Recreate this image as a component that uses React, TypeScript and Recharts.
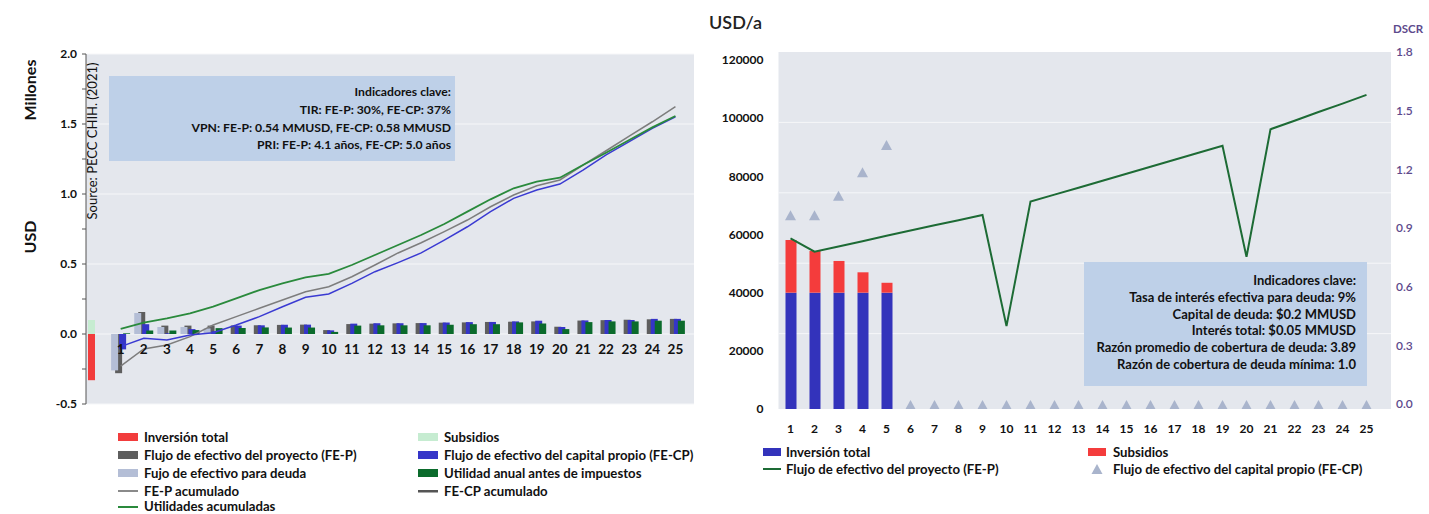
import React from 'react';
import { ComposedChart, Bar, Line, XAxis, YAxis, CartesianGrid, LabelList } from 'recharts';

const FONT = "Lato, 'Open Sans', sans-serif";

// ---------- Left chart data (millones USD) ----------
const years = ['0','1','2','3','4','5','6','7','8','9','10','11','12','13','14','15','16','17','18','19','20','21','22','23','24','25'];
const yearLabels = ['','1','2','3','4','5','6','7','8','9','10','11','12','13','14','15','16','17','18','19','20','21','22','23','24','25'];
const inversionTotal = [-0.33,0,0,0,0,0,0,0,0,0,0,0,0,0,0,0,0,0,0,0,0,0,0,0,0,0];
const subsidios = [0.1,0,0,0,0,0,0,0,0,0,0,0,0,0,0,0,0,0,0,0,0,0,0,0,0,0];
const flujoProyecto = [null,-0.28,0.157,0.06,0.06,0.06,0.061,0.063,0.065,0.067,0.028,0.071,0.074,0.076,0.078,0.081,0.083,0.086,0.088,0.09,0.052,0.096,0.099,0.102,0.105,0.108];
const flujoDeuda = [0,-0.26,0.15,0.05,0.05,0.04,0,0,0,0,0,0,0,0,0,0,0,0,0,0,0,0,0,0,0,0];
const flujoCapital = [null,-0.11,0.07,0.005,0.035,0.02,0.06,0.062,0.066,0.067,0.026,0.074,0.077,0.077,0.078,0.082,0.085,0.086,0.09,0.095,0.05,0.097,0.1,0.1,0.108,0.108];
const utilidadAnual = [null,0.005,0.025,0.025,0.028,0.042,0.043,0.047,0.046,0.046,0.015,0.06,0.062,0.062,0.062,0.066,0.07,0.07,0.083,0.075,0.035,0.085,0.09,0.09,0.095,0.095];
const fepAcumulado = [null,-0.229,-0.107,-0.079,-0.019,0.064,0.124,0.184,0.243,0.302,0.338,0.409,0.493,0.579,0.652,0.731,0.814,0.909,0.993,1.059,1.1,1.207,1.309,1.414,1.516,1.624];
const fecpAcumulado = [null,-0.09,-0.031,-0.043,-0.007,0.009,0.064,0.124,0.195,0.262,0.286,0.362,0.445,0.51,0.579,0.671,0.766,0.874,0.969,1.029,1.071,1.171,1.279,1.374,1.469,1.552];
const utilidadesAcumuladas = [null,0.036,0.081,0.112,0.148,0.195,0.255,0.314,0.362,0.405,0.429,0.493,0.564,0.636,0.707,0.786,0.874,0.962,1.041,1.088,1.116,1.207,1.295,1.386,1.476,1.557];
const zeroLine = [null,0,0,0,0,0,0,0,0,0,0,0,0,0,0,0,0,0,0,0,0,0,0,0,0,0];
const leftTicks = [-0.5,-0.25,0,0.25,0.5,0.75,1,1.25,1.5,1.75,2];
const leftGrid = [-0.5,0,0.5,1,1.5,2];

// ---------- Right chart data (USD/a, DSCR) ----------
const rYears = ['1','2','3','4','5','6','7','8','9','10','11','12','13','14','15','16','17','18','19','20','21','22','23','24','25'];
const rInversion = [40000,40000,40000,40000,40000,null,null,null,null,null,null,null,null,null,null,null,null,null,null,null,null,null,null,null,null];
const rSubsidios = [18100,14300,10900,7000,3400,null,null,null,null,null,null,null,null,null,null,null,null,null,null,null,null,null,null,null,null];
const rFlujoProyecto = [58700,54100,55900,57700,59600,61400,63200,64900,66700,28500,71300,73700,76100,78500,80900,83300,85700,88100,90500,52300,96200,99100,102100,105000,108000];
const rDscr = [0.97,0.97,1.07,1.19,1.33,0,0,0,0,0,0,0,0,0,0,0,0,0,0,0,0,0,0,0,0];
const usdTicks = [0,20000,40000,60000,80000,100000,120000];
const dscrTicks = [0,0.3,0.6,0.9,1.2,1.5,1.8];
const dscrGrid = [0.36,0.72,1.08,1.44];

const leftData = years.map((y, i) => ({
  year: y,
  lbl: yearLabels[i],
  inv: inversionTotal[i],
  sub: subsidios[i],
  fep: flujoProyecto[i],
  deuda: flujoDeuda[i],
  fecp: flujoCapital[i],
  util: utilidadAnual[i],
  fepAc: fepAcumulado[i],
  fecpAc: fecpAcumulado[i],
  utilAc: utilidadesAcumuladas[i],
  zero: zeroLine[i],
}));

const rightData = rYears.map((y, i) => ({
  year: y,
  inv: rInversion[i],
  sub: rSubsidios[i],
  fep: rFlujoProyecto[i],
  dscr: rDscr[i],
}));

const XLabel = (p: any) => {
  const x = p.x ?? p.viewBox?.x;
  const y = p.y ?? p.viewBox?.y;
  if (!p.value || x == null || y == null) return null;
  return (
    <text x={x} y={y + 20} textAnchor="middle" fontSize={13.5} fontWeight={700} fill="#111" fontFamily={FONT}>
      {p.value}
    </text>
  );
};

const Tri = (p: any) => {
  const { cx, cy } = p;
  if (cx == null || cy == null) return null;
  return <polygon key={`t${p.index}`} points={`${cx - 5.5},${cy + 6} ${cx + 5.5},${cy + 6} ${cx},${cy - 4}`} fill="#a9b4cc" />;
};

const tickStyle = { fontSize: 12, fontWeight: 700, fill: '#111', fontFamily: FONT };

function LeftChart() {
  return (
    <div style={{ position: 'absolute', left: 0, top: 0 }}>
      <ComposedChart width={700} height={420} data={leftData} margin={{ top: 54, right: 6, bottom: 16, left: 0 }}
        barGap={-3} stackOffset="sign">
        <CartesianGrid vertical={false} horizontalValues={leftGrid} fill="#e4e7ed" stroke="#f6f7f9" strokeWidth={1} />
        <XAxis dataKey="year" hide padding={{ left: 0, right: 7 }} />
        <YAxis width={86} domain={[-0.5, 2]} ticks={leftTicks} type="number" allowDataOverflow
          tickFormatter={(v: number) => (Math.abs(Math.round(v * 100)) % 50 === 0 ? v.toFixed(1) : '')}
          axisLine={{ stroke: '#555' }} tickLine={{ stroke: '#555' }} tickSize={4} tickMargin={5} tick={tickStyle} />
        <Bar dataKey="fep" fill="#5e5e5e" barSize={7} isAnimationActive={false} />
        <Bar dataKey="deuda" stackId="d" fill="#b4bed6" barSize={7} isAnimationActive={false} />
        <Bar dataKey="inv" stackId="d" fill="#f23c3c" barSize={7} isAnimationActive={false} />
        <Bar dataKey="sub" stackId="d" fill="#c6ecd1" barSize={7} isAnimationActive={false} />
        <Bar dataKey="fecp" fill="#3535c8" barSize={7} isAnimationActive={false} />
        <Bar dataKey="util" fill="#0b6b2c" barSize={7} isAnimationActive={false} />
        <Line dataKey="fepAc" stroke="#7d7d7d" strokeWidth={1.5} dot={false} activeDot={false} isAnimationActive={false} />
        <Line dataKey="fecpAc" stroke="#3a3ad2" strokeWidth={1.5} dot={false} activeDot={false} isAnimationActive={false} />
        <Line dataKey="utilAc" stroke="#2a8a3c" strokeWidth={1.8} dot={false} activeDot={false} isAnimationActive={false} />
        <Line dataKey="zero" stroke="none" dot={false} activeDot={false} isAnimationActive={false}>
          <LabelList dataKey="lbl" content={XLabel} />
        </Line>
      </ComposedChart>
    </div>
  );
}

function RightChart() {
  return (
    <div style={{ position: 'absolute', left: 700, top: 0 }}>
      <ComposedChart width={729} height={440} data={rightData} margin={{ top: 52, right: 0, bottom: 0, left: 0 }}>
        <CartesianGrid vertical={false} yAxisId="dscr" horizontalValues={dscrGrid} fill="#e4e7ed" stroke="#f6f7f9" strokeWidth={1} />
        <XAxis dataKey="year" height={31} padding={{ left: 0, right: 12.5 }} axisLine={false} tickLine={false}
          tickSize={0} tickMargin={15} tick={tickStyle} interval={0} />
        <YAxis yAxisId="usd" orientation="left" width={78.5} domain={[0, 122750]} ticks={usdTicks} type="number"
          allowDataOverflow axisLine={false} tickLine={false} tickSize={0} tickMargin={15} tick={tickStyle} />
        <YAxis yAxisId="dscr" orientation="right" width={38} domain={[-0.0256, 1.8]} ticks={dscrTicks} type="number"
          allowDataOverflow axisLine={false} tickLine={false} tickSize={0} tickMargin={5}
          tickFormatter={(v: number) => v.toFixed(1)}
          tick={{ fontSize: 12, fontWeight: 600, fill: '#5d4a8c', fontFamily: FONT, textAnchor: 'start' }} />
        <Bar yAxisId="usd" dataKey="inv" stackId="r" fill="#3333bb" barSize={11} isAnimationActive={false} />
        <Bar yAxisId="usd" dataKey="sub" stackId="r" fill="#f43c3c" barSize={11} isAnimationActive={false} />
        <Line yAxisId="usd" dataKey="fep" stroke="#1d6b35" strokeWidth={2} dot={false} activeDot={false} isAnimationActive={false} />
        <Line yAxisId="dscr" dataKey="dscr" stroke="none" dot={Tri} activeDot={false} isAnimationActive={false} />
      </ComposedChart>
    </div>
  );
}

const T = (props: any) => <text fontFamily={FONT} fill="#111" {...props} />;

function Overlay() {
  const lx1 = 118, lx2 = 418;
  const rx1 = 763, rx2 = 1088;
  const LF = 13.2;
  const RB = 13;
  return (
    <svg width={1429} height={514} style={{ position: 'absolute', left: 0, top: 0, pointerEvents: 'none' }}>
      {/* Left titles */}
      <T transform="translate(36,90) rotate(-90)" textAnchor="middle" fontSize={16} fontWeight={700}>Millones</T>
      <T transform="translate(97,141) rotate(-90)" textAnchor="middle" fontSize={13}>Source: PECC CHIH. (2021)</T>
      <T transform="translate(36,237) rotate(-90)" textAnchor="middle" fontSize={16} fontWeight={700}>USD</T>
      {/* Left box */}
      <rect x={109} y={76} width={346} height={85} fill="#bed0e8" />
      <T x={451} y={96} textAnchor="end" fontSize={12.2} fontWeight={700}>Indicadores clave:</T>
      <T x={451} y={114} textAnchor="end" fontSize={12.2} fontWeight={700}>TIR: FE-P: 30%, FE-CP: 37%</T>
      <T x={451} y={132} textAnchor="end" fontSize={12.2} fontWeight={700}>VPN: FE-P: 0.54 MMUSD, FE-CP: 0.58 MMUSD</T>
      <T x={451} y={149} textAnchor="end" fontSize={12.2} fontWeight={700}>PRI: FE-P: 4.1 años, FE-CP: 5.0 años</T>

      {/* Left legend */}
      <rect x={lx1} y={433} width={20} height={8} fill="#f23c3c" />
      <T x={144} y={441.5} fontSize={LF} fontWeight={700}>Inversión total</T>
      <rect x={lx2} y={433} width={20} height={8} fill="#c6ecd1" />
      <T x={444} y={441.5} fontSize={LF} fontWeight={700}>Subsidios</T>
      <rect x={lx1} y={451} width={20} height={8} fill="#5e5e5e" />
      <T x={144} y={459.5} fontSize={LF} fontWeight={700}>Flujo de efectivo del proyecto (FE-P)</T>
      <rect x={lx2} y={451} width={20} height={8} fill="#3535c8" />
      <T x={444} y={459.5} fontSize={LF} fontWeight={700}>Flujo de efectivo del capital propio (FE-CP)</T>
      <rect x={lx1} y={469} width={20} height={8} fill="#b4bed6" />
      <T x={144} y={477.5} fontSize={LF} fontWeight={700}>Fujo de efectivo para deuda</T>
      <rect x={lx2} y={469} width={20} height={8} fill="#0b6b2c" />
      <T x={444} y={477.5} fontSize={LF} fontWeight={700}>Utilidad anual antes de impuestos</T>
      <rect x={lx1} y={490} width={20} height={2} fill="#8a8a8a" />
      <T x={144} y={495.5} fontSize={LF} fontWeight={700}>FE-P acumulado</T>
      <rect x={lx2} y={490} width={20} height={2.5} fill="#555" />
      <T x={444} y={495.5} fontSize={LF} fontWeight={700}>FE-CP acumulado</T>
      <rect x={lx1} y={506} width={20} height={2} fill="#2a8a3c" />
      <T x={144} y={511} fontSize={LF} fontWeight={700}>Utilidades acumuladas</T>

      {/* Right titles */}
      <T x={709} y={29} fontSize={18} fontWeight={600} fill="#222">USD/a</T>
      <T x={1393} y={33} fontSize={11.5} fontWeight={700} fill="#5d4a8c">DSCR</T>

      {/* Right box */}
      <rect x={1084} y={262} width={283} height={124} fill="#bed0e8" />
      <T x={1356} y={285} textAnchor="end" fontSize={RB} fontWeight={700}>Indicadores clave:</T>
      <T x={1356} y={302} textAnchor="end" fontSize={RB} fontWeight={700}>Tasa de interés efectiva para deuda: 9%</T>
      <T x={1356} y={319} textAnchor="end" fontSize={RB} fontWeight={700}>Capital de deuda: $0.2 MMUSD</T>
      <T x={1356} y={335} textAnchor="end" fontSize={RB} fontWeight={700}>Interés total: $0.05 MMUSD</T>
      <T x={1356} y={352} textAnchor="end" fontSize={RB} fontWeight={700}>Razón promedio de cobertura de deuda: 3.89</T>
      <T x={1356} y={369} textAnchor="end" fontSize={RB} fontWeight={700}>Razón de cobertura de deuda mínima: 1.0</T>

      {/* Right legend */}
      <rect x={rx1} y={448} width={18} height={8} fill="#3333bb" />
      <T x={786} y={457} fontSize={LF} fontWeight={700}>Inversión total</T>
      <rect x={rx2} y={448} width={18} height={8} fill="#f43c3c" />
      <T x={1113} y={457} fontSize={LF} fontWeight={700}>Subsidios</T>
      <rect x={rx1} y={468} width={18} height={2} fill="#1d6b35" />
      <T x={786} y={474} fontSize={LF} fontWeight={700}>Flujo de efectivo del proyecto (FE-P)</T>
      <polygon points="1091.5,474 1102.5,474 1097,464" fill="#a9b4cc" />
      <T x={1113} y={474} fontSize={LF} fontWeight={700}>Flujo de efectivo del capital propio (FE-CP)</T>
    </svg>
  );
}

export default function App() {
  return (
    <div style={{ position: 'absolute', left: 0, top: 0, width: 1429, height: 514, background: '#fff', overflow: 'hidden', fontFamily: FONT }}>
      <LeftChart />
      <RightChart />
      <Overlay />
    </div>
  );
}
